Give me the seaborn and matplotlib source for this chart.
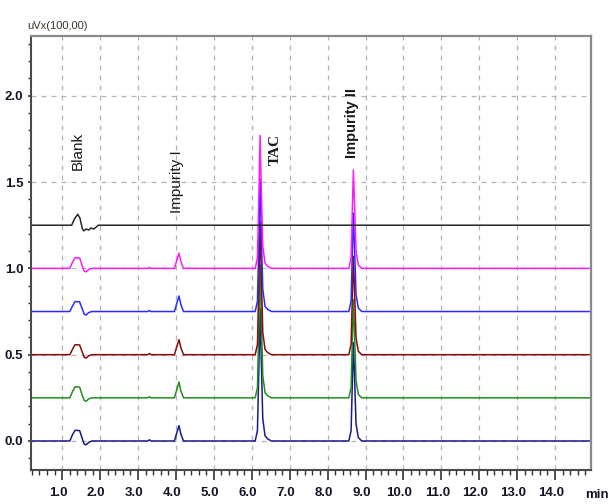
import numpy as np
import pandas as pd
import matplotlib
matplotlib.use("Agg")
import matplotlib.pyplot as plt
import seaborn as sns
from matplotlib.ticker import MultipleLocator
from matplotlib.transforms import ScaledTranslation

# ---- data (time in min, signal relative to each baseline) ----
trace_names = ["Run 1", "Run 2", "Run 3", "Run 4", "Run 5", "Blank"]
trace_colors = ["#1a1a8c", "#1f8f1f", "#8b0a0a", "#2b2bff", "#ff19ff", "#262626"]
trace_offsets = [0.0, 0.25, 0.5, 0.75, 1.0, 1.25]

# sample runs: same time grid, one signal list per run
sample_time = [0.19, 1.20, 1.28, 1.34, 1.46, 1.52, 1.58, 1.63, 1.70, 1.78,
               3.26, 3.30, 3.34, 3.96, 4.02, 4.08, 4.13, 4.20,
               6.09, 6.15, 6.19, 6.22, 6.25, 6.29, 6.35, 6.42, 6.52,
               8.56, 8.62, 8.66, 8.68, 8.71, 8.75, 8.81, 8.90, 14.96]
run1 = [0, 0, 0.04, 0.062, 0.060, 0.02, -0.018, -0.022, -0.008, 0,
        0, 0.007, 0, 0, 0.045, 0.089, 0.04, 0,
        0, 0.06, 0.45, 0.77, 0.48, 0.13, 0.03, 0.012, 0,
        0, 0.06, 0.40, 0.57, 0.38, 0.10, 0.02, 0, 0]
run2 = [0, 0, 0.04, 0.064, 0.062, 0.02, -0.015, -0.02, -0.006, 0,
        0, 0.006, 0, 0, 0.045, 0.092, 0.04, 0,
        0, 0.06, 0.45, 0.77, 0.48, 0.13, 0.03, 0.012, 0,
        0, 0.06, 0.40, 0.57, 0.38, 0.10, 0.02, 0, 0]
run3 = [0, 0, 0.035, 0.058, 0.056, 0.02, -0.015, -0.02, -0.006, 0,
        0, 0.007, 0, 0, 0.045, 0.087, 0.04, 0,
        0, 0.06, 0.45, 0.77, 0.48, 0.13, 0.03, 0.012, 0,
        0, 0.06, 0.40, 0.57, 0.38, 0.10, 0.02, 0, 0]
run4 = [0, 0, 0.035, 0.058, 0.056, 0.02, -0.016, -0.02, -0.006, 0,
        0, 0.006, 0, 0, 0.045, 0.090, 0.04, 0,
        0, 0.06, 0.45, 0.77, 0.48, 0.13, 0.03, 0.012, 0,
        0, 0.06, 0.40, 0.57, 0.38, 0.10, 0.02, 0, 0]
run5 = [0, 0, 0.04, 0.062, 0.060, 0.02, -0.016, -0.02, -0.006, 0,
        0, 0.006, 0, 0, 0.045, 0.088, 0.04, 0,
        0, 0.06, 0.45, 0.77, 0.48, 0.13, 0.03, 0.012, 0,
        0, 0.06, 0.40, 0.57, 0.38, 0.10, 0.02, 0, 0]

# blank injection: only the solvent front
blank_time = [0.19, 1.25, 1.32, 1.41, 1.47, 1.53, 1.57, 1.63, 1.70, 1.76, 1.83, 1.89, 1.95, 14.96]
blank_sig = [0, 0, 0.035, 0.064, 0.04, -0.02, -0.033, -0.022, -0.028, -0.016, -0.022, -0.012, 0, 0]

peak_labels = ["Blank", "Impurity I", "TAC", "Impurity II"]
label_x = [1.41, 4.03, 6.61, 8.64]
label_y = [1.68, 1.50, 1.69, 1.84]

x_ticks = [1.0, 2.0, 3.0, 4.0, 5.0, 6.0, 7.0, 8.0, 9.0, 10.0, 11.0, 12.0, 13.0, 14.0]
y_ticks = [0.0, 0.5, 1.0, 1.5, 2.0]

# ---- build long table ----
frames = []
signals = [run1, run2, run3, run4, run5]
for name, off, sig in zip(trace_names[:5], trace_offsets[:5], signals):
    frames.append(pd.DataFrame({"time": sample_time, "signal": np.array(sig) + off, "trace": name}))
frames.append(pd.DataFrame({"time": blank_time, "signal": np.array(blank_sig) + trace_offsets[5],
                            "trace": trace_names[5]}))
df = pd.concat(frames, ignore_index=True)

sns.set_style("white")
num_font = ["Liberation Sans", "DejaVu Sans"]

fig = plt.figure(figsize=(6.08, 5.04), dpi=100)
ax = fig.add_axes([0.0518, 0.0675, 0.921, 0.8617])

ax.grid(True, which="major", color="#b4b4b4", linestyle=(0, (4, 4)), linewidth=0.9)
ax.set_axisbelow(True)

sns.lineplot(data=df, x="time", y="signal", hue="trace", hue_order=trace_names,
             palette=dict(zip(trace_names, trace_colors)), estimator=None, sort=False,
             linewidth=1.1, legend=False, ax=ax)

ax.set_xlim(0.19, 14.96)
ax.set_ylim(-0.168, 2.348)
ax.set_xticks(x_ticks)
ax.set_yticks(y_ticks)
ax.xaxis.set_minor_locator(MultipleLocator(0.2))
ax.yaxis.set_minor_locator(MultipleLocator(0.1))
ax.set_xticklabels([f"{v:.1f}" for v in x_ticks], family=num_font, fontsize=9.5, fontweight="bold", color="#141428")
ax.set_yticklabels([f"{v:.1f}" for v in y_ticks], family=num_font, fontsize=9.5, fontweight="bold", color="#141428")
ax.tick_params(axis="x", which="major", direction="out", length=7.5, width=1.2, color="#333333", pad=5, bottom=True)
ax.tick_params(axis="x", which="minor", direction="out", length=3.8, width=1.0, color="#333333", bottom=True)
ax.tick_params(axis="y", which="major", direction="out", length=2.5, width=1.2, color="#333333", pad=3.5, left=True)
ax.tick_params(axis="y", which="minor", direction="out", length=2, width=1.0, color="#333333", left=True)
for lab in ax.get_xticklabels():
    lab.set_transform(lab.get_transform() + ScaledTranslation(-0.04, 0, fig.dpi_scale_trans))
ax.set_xlabel("")
ax.set_ylabel("")

for side in ["left", "bottom"]:
    ax.spines[side].set_color("#4a4a4a")
    ax.spines[side].set_linewidth(1.5)
for side in ["top", "right"]:
    ax.spines[side].set_color("#8a8a8a")
    ax.spines[side].set_linewidth(1.6)

# peak annotations
label_fonts = [["Liberation Sans", "DejaVu Sans"], ["Liberation Sans", "DejaVu Sans"],
               ["Liberation Serif", "DejaVu Serif"], ["Liberation Sans", "DejaVu Sans"]]
label_weights = ["normal", "normal", "bold", "bold"]
label_sizes = [11, 11, 11, 10.5]
for txt, lx, ly, fam, fw, fs in zip(peak_labels, label_x, label_y, label_fonts, label_weights, label_sizes):
    ax.text(lx, ly, txt, rotation=90, ha="center", va="center", fontsize=fs,
            family=fam, fontweight=fw, color="#1a1a1a")

fig.text(27 / 608, 1 - 26 / 504, "uVx(100,00)", family=num_font, fontsize=8,
         color="#3a3226", ha="left", va="center")
fig.text(597 / 608, 1 - 495 / 504, "min", family=num_font, fontsize=9.5, fontweight="bold",
         color="#141428", ha="center", va="center")

fig.savefig("out.png", dpi=100)
